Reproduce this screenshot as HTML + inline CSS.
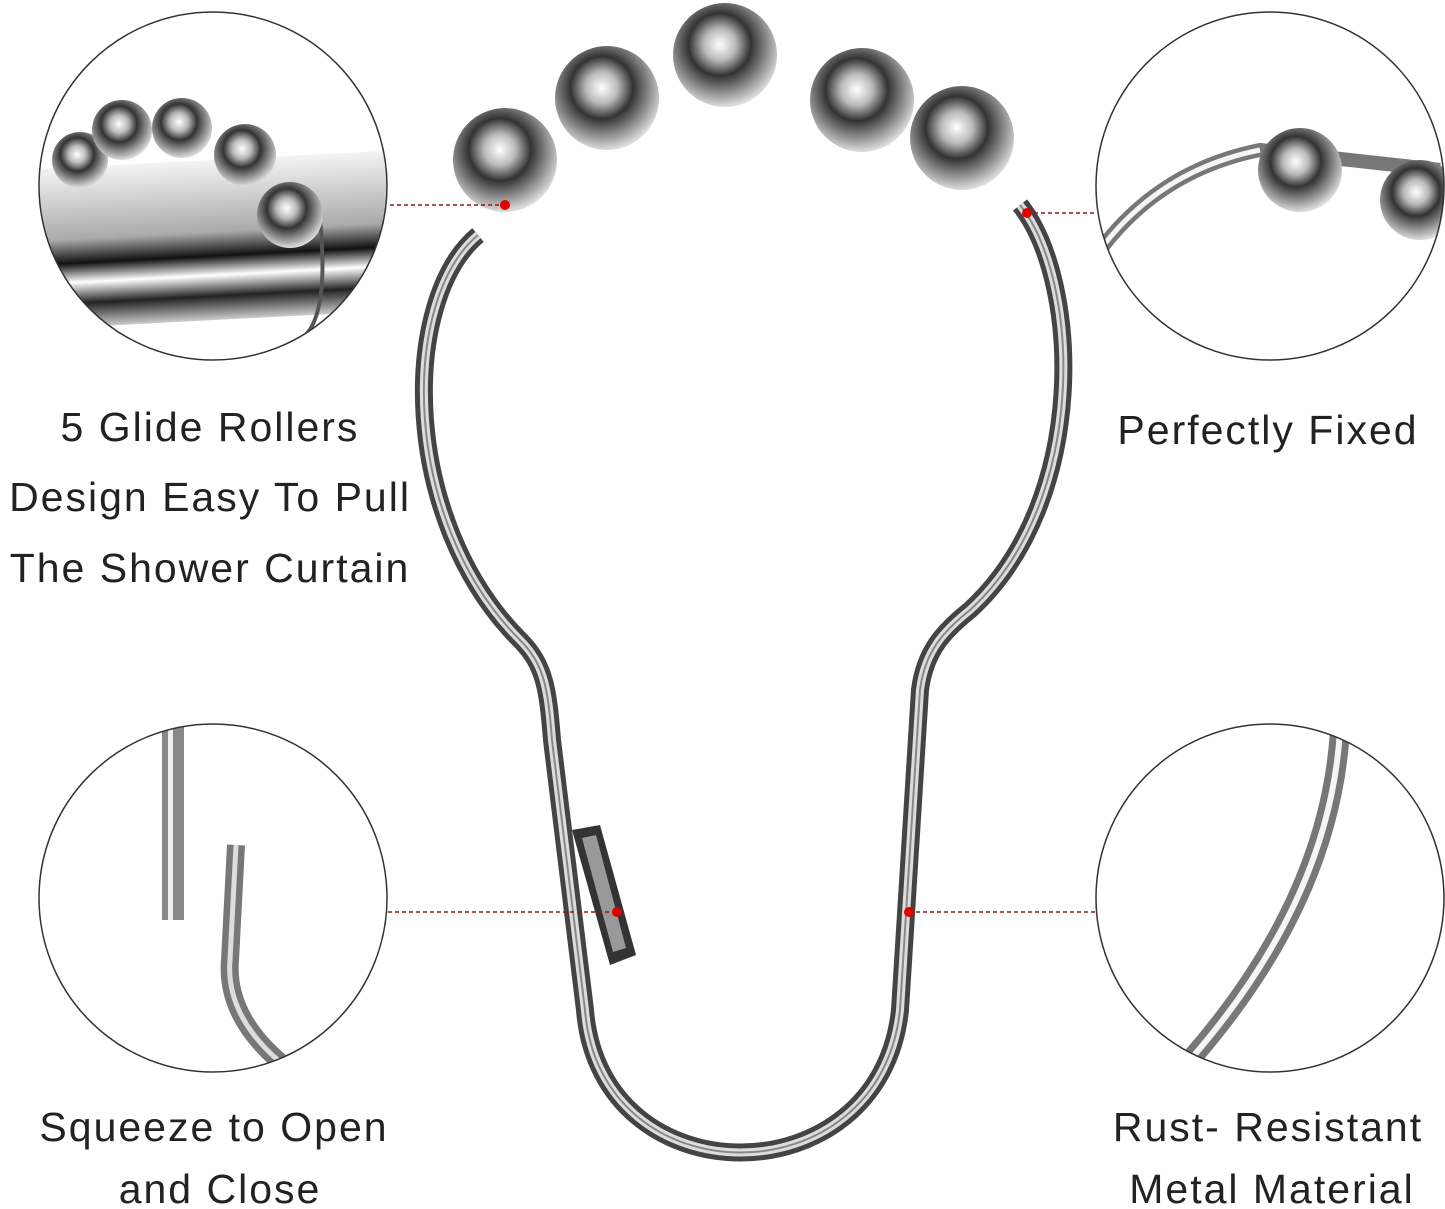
<!DOCTYPE html>
<html><head><meta charset="utf-8"><style>
html,body{margin:0;padding:0;background:#fff;}
svg{display:block;}
text{font-family:"Liberation Sans","DejaVu Sans",sans-serif;fill:#222;font-size:41px;text-anchor:middle;letter-spacing:2px;}
</style></head><body>
<svg width="1445" height="1209" viewBox="0 0 1445 1209" xmlns="http://www.w3.org/2000/svg">
<defs>
<radialGradient id="ball" cx="45%" cy="40%" r="60%">
<stop offset="0" stop-color="#fff"/><stop offset="0.25" stop-color="#bbb"/><stop offset="0.5" stop-color="#333"/><stop offset="0.75" stop-color="#888"/><stop offset="1" stop-color="#ddd"/>
</radialGradient>
<linearGradient id="bar" x1="0" y1="0" x2="0" y2="1">
<stop offset="0" stop-color="#f4f4f4"/><stop offset="0.45" stop-color="#aaa"/><stop offset="0.6" stop-color="#111"/><stop offset="0.72" stop-color="#fff"/><stop offset="0.85" stop-color="#222"/><stop offset="1" stop-color="#ccc"/>
</linearGradient>
<clipPath id="c1"><circle cx="213" cy="186" r="174"/></clipPath>
<clipPath id="c2"><circle cx="1270" cy="186" r="174"/></clipPath>
<clipPath id="c3"><circle cx="213" cy="898" r="174"/></clipPath>
<clipPath id="c4"><circle cx="1270" cy="898" r="174"/></clipPath>
</defs>

<g clip-path="url(#c1)">
<rect x="30" y="160" width="380" height="160" fill="url(#bar)" transform="rotate(-3 213 240)"/>
<path d="M320 220 Q330 320 300 340" stroke="#555" stroke-width="4" fill="none"/>
<circle cx="80" cy="160" r="28" fill="url(#ball)"/>
<circle cx="122" cy="130" r="30" fill="url(#ball)"/>
<circle cx="182" cy="128" r="30" fill="url(#ball)"/>
<circle cx="245" cy="155" r="31" fill="url(#ball)"/>
<circle cx="290" cy="215" r="33" fill="url(#ball)"/>
</g>
<circle cx="213" cy="186" r="174" fill="none" stroke="#333" stroke-width="1.5"/>

<g clip-path="url(#c2)">
<path d="M1100 250 Q1160 170 1260 150 L1440 170" stroke="#777" stroke-width="14" fill="none"/>
<path d="M1100 250 Q1160 170 1260 150" stroke="#f5f5f5" stroke-width="5" fill="none"/>
<circle cx="1300" cy="170" r="42" fill="url(#ball)"/>
<circle cx="1420" cy="200" r="40" fill="url(#ball)"/>
</g>
<circle cx="1270" cy="186" r="174" fill="none" stroke="#333" stroke-width="1.5"/>

<g clip-path="url(#c3)">
<rect x="162" y="720" width="22" height="200" fill="#888"/>
<rect x="168" y="720" width="5" height="200" fill="#eee"/>
<path d="M236 845 L230 960 Q225 1020 290 1070" stroke="#777" stroke-width="18" fill="none"/>
<path d="M236 845 L230 960 Q225 1020 290 1070" stroke="#ddd" stroke-width="5" fill="none"/>
</g>
<circle cx="213" cy="898" r="174" fill="none" stroke="#333" stroke-width="1.5"/>

<g clip-path="url(#c4)">
<path d="M1340 730 Q1330 900 1190 1060" stroke="#777" stroke-width="20" fill="none"/>
<path d="M1340 730 Q1330 900 1190 1060" stroke="#f5f5f5" stroke-width="6" fill="none"/>
</g>
<circle cx="1270" cy="898" r="174" fill="none" stroke="#333" stroke-width="1.5"/>

<path d="M478 235 C400 300 400 520 520 640 C545 665 548 690 552 740 L585 1010 C600 1200 880 1200 900 1010 L920 690 C925 650 945 630 970 610 C1090 500 1080 280 1020 205" fill="none" stroke="#444" stroke-width="18" stroke-linejoin="round"/>
<path d="M478 235 C400 300 400 520 520 640 C545 665 548 690 552 740 L585 1010 C600 1200 880 1200 900 1010 L920 690 C925 650 945 630 970 610 C1090 500 1080 280 1020 205" fill="none" stroke="#ddd" stroke-width="8"/>
<path d="M478 235 C400 300 400 520 520 640 C545 665 548 690 552 740 L585 1010 C600 1200 880 1200 900 1010 L920 690 C925 650 945 630 970 610 C1090 500 1080 280 1020 205" fill="none" stroke="#888" stroke-width="2"/>
<path d="M572 830 L600 825 L636 955 L610 965 Z" fill="#333"/>
<path d="M582 838 L596 835 L626 948 L613 952 Z" fill="#999"/>

<circle cx="505" cy="160" r="52" fill="url(#ball)"/>
<circle cx="607" cy="98" r="52" fill="url(#ball)"/>
<circle cx="725" cy="55" r="52" fill="url(#ball)"/>
<circle cx="862" cy="100" r="52" fill="url(#ball)"/>
<circle cx="962" cy="138" r="52" fill="url(#ball)"/>

<g stroke="#8b1a1a" stroke-width="1.5" stroke-dasharray="4 3">
<line x1="390" y1="205" x2="505" y2="205"/>
<line x1="1027" y1="213" x2="1097" y2="213"/>
<line x1="388" y1="912" x2="617" y2="912"/>
<line x1="909" y1="912" x2="1095" y2="912"/>
</g>
<g fill="#e00000">
<circle cx="505" cy="205" r="5"/>
<circle cx="1027" cy="213" r="5"/>
<circle cx="617" cy="912" r="5"/>
<circle cx="909" cy="912" r="5"/>
</g>

<text x="210" y="441">5 Glide Rollers</text>
<text x="210" y="511">Design Easy To Pull</text>
<text x="210" y="582">The Shower Curtain</text>
<text x="1268" y="444">Perfectly Fixed</text>
<text x="214" y="1141">Squeeze to Open</text>
<text x="220" y="1203">and Close</text>
<text x="1268" y="1141">Rust- Resistant</text>
<text x="1272" y="1203">Metal Material</text>
</svg>
</body></html>
